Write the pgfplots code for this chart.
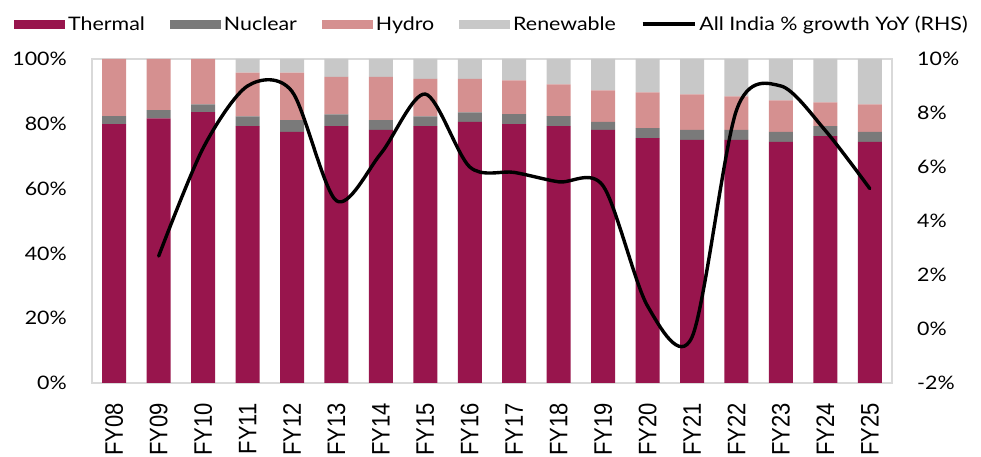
\documentclass[border=0pt]{standalone}
\usepackage{fontspec}
\setmainfont{Lato}[FakeStretch=1.15]
\newfontfamily\xfont{Liberation Sans}
\usepackage{pgfplots}
\usepackage{pgfplotstable}
\pgfplotsset{compat=1.18}
\definecolor{thermal}{HTML}{98154D}
\definecolor{nuclear}{HTML}{7A7A7A}
\definecolor{hydro}{HTML}{D59090}
\definecolor{renew}{HTML}{C8C8C8}
\definecolor{framec}{HTML}{D9D9D9}
\pgfplotstableread{
x thermal nuclear hydro renew
0  79.9 2.5 17.6 0.0
1  81.7 2.5 15.8 0.0
2  83.6 2.4 14.0 0.0
3  79.3 3.0 13.5 4.2
4  77.5 3.6 14.7 4.2
5  79.3 3.6 11.6 5.5
6  78.1 3.0 13.4 5.5
7  79.3 3.0 11.6 6.1
8  80.6 2.9 10.4 6.1
9  79.9 3.1 10.4 6.6
10 79.3 3.1 9.8 7.8
11 78.1 2.5 9.7 9.7
12 75.6 3.1 11.0 10.3
13 75.0 3.1 11.0 10.9
14 75.0 3.1 10.4 11.5
15 74.4 3.1 9.7 12.8
16 76.2 3.1 7.3 13.4
17 74.4 3.1 8.5 14.0
}\mixdata
\pgfplotstableread{
x growth
1  2.7
2  6.7
3  9.0
4  8.8
5  4.75
6  6.5
7  8.7
8  6.0
9  5.8
10 5.45
11 5.3
12 0.85
13 -0.3
14 8.1
15 9.0
16 7.35
17 5.2
}\growthdata
\newcommand{\tfont}{\fontsize{18.6}{21}\selectfont}
\begin{document}
\begin{tikzpicture}
\useasboundingbox (0,0) rectangle (981pt,457pt);
\begin{axis}[
  at={(92pt,74pt)}, anchor=south west,
  scale only axis, width=800pt, height=324pt,
  xmin=-0.5, xmax=17.5, ymin=0, ymax=100,
  ybar stacked, bar width=24pt,
  xtick={0,...,17},
  xticklabels={FY08,FY09,FY10,FY11,FY12,FY13,FY14,FY15,FY16,FY17,FY18,FY19,FY20,FY21,FY22,FY23,FY24,FY25},
  ytick={0,20,40,60,80,100},
  yticklabel={\pgfmathprintnumber{\tick}\%},
  /pgf/number format/assume math mode=true,
  major tick length=0pt,
  axis line style={draw=framec, line width=1.2pt},
  tick label style={font=\tfont, inner sep=0pt},
  yticklabel shift=25pt,
  xticklabel shift=20pt,
  xticklabel style={font=\xfont\fontsize{22}{24}\selectfont, xscale=1.15, rotate=90, anchor=east},
  legend style={at={(axis description cs:-0.0975,1.108)}, anchor=west, draw=none, fill=none,
    inner sep=0pt, legend columns=5, font=\tfont,
    nodes={inner xsep=3pt, inner ysep=0pt},
    /tikz/every even column/.append style={column sep=22pt}},
]
\addplot[fill=thermal, draw=none, legend image code/.code={\fill[thermal] (0pt,-4.5pt) rectangle (51pt,4.5pt);}] table[x=x,y=thermal]{\mixdata};
\addlegendentry{Thermal}
\addplot[fill=nuclear, draw=none, legend image code/.code={\fill[nuclear] (0pt,-4.5pt) rectangle (51pt,4.5pt);}] table[x=x,y=nuclear]{\mixdata};
\addlegendentry{Nuclear}
\addplot[fill=hydro, draw=none, legend image code/.code={\fill[hydro] (0pt,-4.5pt) rectangle (51pt,4.5pt);}] table[x=x,y=hydro]{\mixdata};
\addlegendentry{Hydro}
\addplot[fill=renew, draw=none, legend image code/.code={\fill[renew] (0pt,-4.5pt) rectangle (51pt,4.5pt);}] table[x=x,y=renew]{\mixdata};
\addlegendentry{Renewable}
\addlegendimage{legend image code/.code={\draw[black, line width=3.4pt] (0pt,0pt) -- (52pt,0pt);}}
\addlegendentry{All India \% growth YoY (RHS)}
\end{axis}
\begin{axis}[
  at={(92pt,74pt)}, anchor=south west,
  scale only axis, width=800pt, height=324pt,
  xmin=-0.5, xmax=17.5, ymin=-2, ymax=10,
  hide x axis,
  axis y line*=right,
  ytick={-2,0,2,4,6,8,10},
  yticklabel={\pgfmathprintnumber{\tick}\%},
  /pgf/number format/assume math mode=true,
  major tick length=0pt,
  axis line style={draw=framec, line width=1.2pt},
  tick label style={font=\tfont, inner sep=0pt},
  yticklabel shift=25pt,
  yticklabel style={anchor=west},
]
\addplot[black, line width=3.4pt, smooth, tension=0.5, line cap=round] table[x=x,y=growth]{\growthdata};
\end{axis}
\end{tikzpicture}
\end{document}
